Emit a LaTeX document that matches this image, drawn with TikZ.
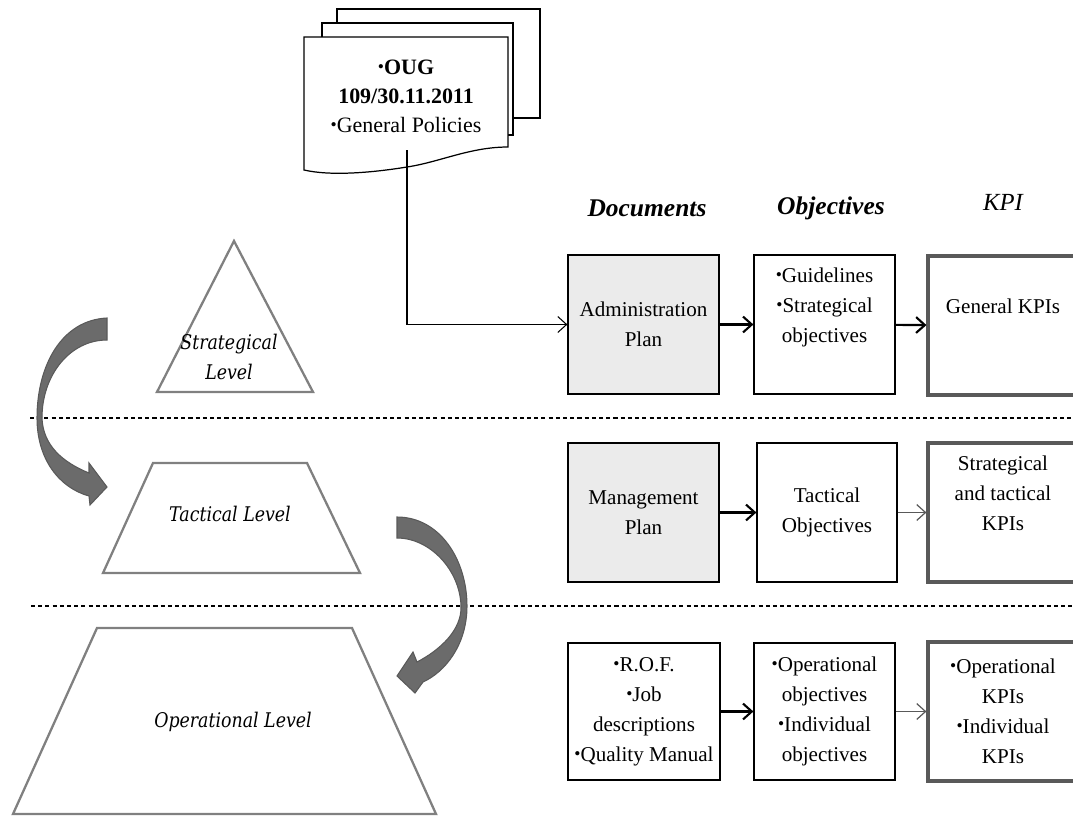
\documentclass[tikz,border=0pt]{standalone}
\usepackage{fontspec}
\setmainfont{Liberation Serif}
\newfontfamily\lvlfont[FakeStretch=0.86]{DejaVu Serif}
\usetikzlibrary{arrows.meta}

\definecolor{planfill}{HTML}{EBEBEB}
\definecolor{kpiedge}{HTML}{595959}
\definecolor{pyredge}{HTML}{808080}
\definecolor{swoopfill}{HTML}{6B6B6B}
\newcommand{\bul}{{\fontsize{10}{10}\selectfont\raisebox{0.25ex}{•}}}

\begin{document}
\begin{tikzpicture}[x=0.02cm,y=-0.02cm,
    every node/.style={font=\fontsize{12}{17}\selectfont, align=center, inner sep=2pt},
    sheet/.style={draw=black, line width=0.7pt, fill=white},
    objbox/.style={draw=black, line width=0.7pt, fill=white, minimum height=2.78cm},
    planbox/.style={objbox, fill=planfill},
    kpibox/.style={draw=kpiedge, line width=1.8pt, fill=white, minimum width=3cm, minimum height=2.78cm},
    heavy/.style={draw=black, line width=1.2pt, -{Straight Barb[length=5pt,width=9pt]}},
    light/.style={draw=kpiedge, line width=0.7pt, -{Straight Barb[length=5pt,width=9pt]}},
    feed/.style={draw=black, line width=0.6pt, -{Straight Barb[length=5pt,width=9pt]}},
    level/.style={draw=pyredge, line width=1.3pt},
    lvltext/.style={font=\lvlfont\itshape\fontsize{11.5}{17}\selectfont},
    swoop/.style={fill=swoopfill, draw=kpiedge, line width=0.6pt},
    divider/.style={draw=black, line width=0.6pt, dash pattern=on 2.3pt off 1.8pt},
    colhead/.style={font=\fontsize{14.5}{17}\selectfont\bfseries\itshape}
  ]
  \path[use as bounding box, clip] (0,0) rectangle (1073,816);

  % stacked documents
  \draw[sheet] (337,23) -- (337,9) -- (540,9) -- (540,118) -- (513,118);
  \draw[sheet] (322,37) -- (322,23) -- (513,23) -- (513,135) -- (508,135);
  \draw[sheet] (304,37) -- (508,37) -- (508,147)
    .. controls (470,147) and (440,162) .. (407,167)
    .. controls (370,173) and (330,176) .. (304,170) -- cycle;
  \node[font=\fontsize{12.5}{16.5}\selectfont] (oug) at (406,96)
    {\bul\textbf{OUG}\\\textbf{109/30.11.2011}\\\bul General Policies};
  \coordinate (docfoot) at (407,150);

  % column titles
  \node[colhead] (hdoc) at (647,208) {Documents};
  \node[colhead] (hobj) at (831,208) {Objectives};
  \node[font=\fontsize{14}{17}\selectfont\itshape] (hkpi) at (1003,202) {KPI};

  % level separators
  \draw[divider] (30,418) -- (1073,418);
  \draw[divider] (31,606) -- (1073,606);

  % pyramid levels
  \draw[level] (234,241) -- (313,392) -- (157,392) -- cycle;
  \node[lvltext] (strat) at (229,357) {Strategical\\Level};
  \draw[level] (153,463) -- (307,463) -- (360,573) -- (103,573) -- cycle;
  \node[lvltext] (tact) at (230,514) {Tactical Level};
  \draw[level] (97,628) -- (352,628) -- (436,814) -- (13,814) -- cycle;
  \node[lvltext] (oper) at (233,722) {Operational Level};

  % curved arrows between levels
  \draw[swoop] (107,318) .. controls (62,320) and (37,365) .. (37,418)
    .. controls (37,460) and (60,488) .. (89,496) -- (90,505) -- (107,487)
    -- (89,463) -- (89,473) .. controls (62,462) and (43,445) .. (42,418)
    .. controls (42,375) and (70,340) .. (107,340) -- cycle;
  \draw[swoop] (397,517) .. controls (440,517) and (467,560) .. (467,606)
    .. controls (467,645) and (445,672) .. (423,682) -- (415,693) -- (397,676)
    -- (413,652) -- (417,662) .. controls (440,650) and (462,630) .. (461,606)
    .. controls (460,570) and (430,538) .. (397,538) -- cycle;

  % strategical row
  \node[planbox, minimum width=3.02cm] (admin) at (643.5,324.5) {Administration\\Plan};
  \node[objbox, minimum width=2.82cm] (guide) at (824.5,324.5)
    {\bul Guidelines\\\bul Strategical\\objectives\\\strut};
  \node[kpibox] (kpigen) at (1003,325.5) {General KPIs\\\strut};

  % tactical row
  \node[planbox, minimum width=3.02cm] (mgmt) at (643.5,512.5) {Management\\Plan};
  \node[objbox, minimum width=2.8cm] (tactobj) at (827,512.5) {Tactical\\Objectives};
  \node[kpibox] (kpitact) at (1003,512.5) {Strategical\\and tactical\\KPIs\\\strut};

  % operational row
  \node[objbox, minimum width=3.04cm, minimum height=2.74cm] (rof) at (644,711.5)
    {\bul R.O.F.\\\bul Job\\descriptions\\\bul Quality Manual};
  \node[objbox, minimum width=2.82cm, minimum height=2.74cm] (operobj) at (824.5,711.5)
    {\bul Operational\\objectives\\\bul Individual\\objectives};
  \node[kpibox] (kpioper) at (1003,711.5)
    {\bul Operational\\KPIs\\\bul Individual\\KPIs};

  % connectors
  \draw[feed] (docfoot) |- (admin.west);
  \draw[heavy] (admin) -- (guide);
  \draw[heavy] (guide) -- (kpigen);
  \draw[heavy] (mgmt) -- (tactobj);
  \draw[light] (tactobj) -- (kpitact);
  \draw[heavy] (rof) -- (operobj);
  \draw[light] (operobj) -- (kpioper);
\end{tikzpicture}
\end{document}
